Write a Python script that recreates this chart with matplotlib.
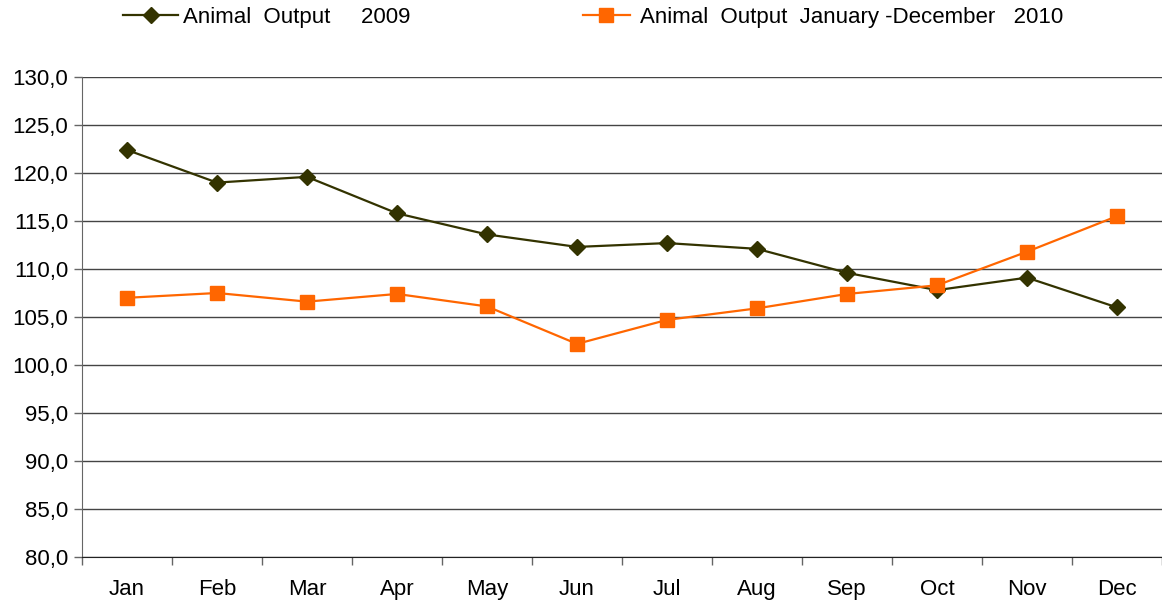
import numpy as np
from matplotlib import pyplot as plt
from matplotlib.lines import Line2D

plt.rcParams['font.family'] = ['Liberation Sans', 'DejaVu Sans']

months = ["Jan", "Feb", "Mar", "Apr", "May", "Jun",
          "Jul", "Aug", "Sep", "Oct", "Nov", "Dec"]
output_2009 = [122.4, 119.0, 119.6, 115.8, 113.6, 112.3,
               112.7, 112.1, 109.6, 107.8, 109.1, 106.0]
output_2010 = [107.0, 107.5, 106.6, 107.4, 106.1, 102.2,
               104.7, 105.9, 107.4, 108.3, 111.8, 115.5]
yticks = np.arange(80, 131, 5)

DARK = "#333300"
ORANGE = "#FF6600"

fig = plt.figure(figsize=(11.62, 6.04), dpi=100)
ax = fig.add_axes([82/1162, 47/604, 1 - 82/1162, 480/604])

x = np.arange(len(months))
ax.plot(x, output_2009, color=DARK, lw=1.6, marker='D', ms=8.5, zorder=3)
ax.plot(x, output_2010, color=ORANGE, lw=1.6, marker='s', ms=10.5, zorder=3)

ax.set_xlim(-0.5, len(months) - 0.5)
ax.set_ylim(80, 130)
ax.set_yticks(yticks)
ax.set_yticklabels([("%.1f" % v).replace('.', ',') for v in yticks])
ax.set_xticks(x)
ax.set_xticklabels(months)
ax.set_xticks(np.arange(-0.5, len(months)), minor=True)
ax.tick_params(axis='x', which='major', length=0, pad=16, labelsize=16)
ax.tick_params(axis='x', which='minor', length=6, width=1, color='#666666')
ax.tick_params(axis='y', length=6, width=1, color='#666666', labelsize=16, pad=4)
ax.grid(axis='y', color='#444444', lw=1)
ax.set_axisbelow(True)
for side in ['top', 'right']:
    ax.spines[side].set_visible(False)
ax.spines['left'].set_color('#666666')
ax.spines['bottom'].set_color('#222222')

h1 = Line2D([], [], color=DARK, lw=1.6, marker='D', ms=8.5)
h2 = Line2D([], [], color=ORANGE, lw=1.6, marker='s', ms=10.5)
fig.legend([h1], ["Animal  Output     2009"], loc='center left',
           bbox_to_anchor=(123/1162, 1 - 17/604), frameon=False, fontsize=16,
           borderpad=0, borderaxespad=0, handlelength=2.48, handletextpad=0.2)
fig.legend([h2], ["Animal  Output  January -December   2010"], loc='center left',
           bbox_to_anchor=(583/1162, 1 - 17/604), frameon=False, fontsize=16,
           borderpad=0, borderaxespad=0, handlelength=2.1, handletextpad=0.45)

fig.savefig("out.png", dpi=100)
